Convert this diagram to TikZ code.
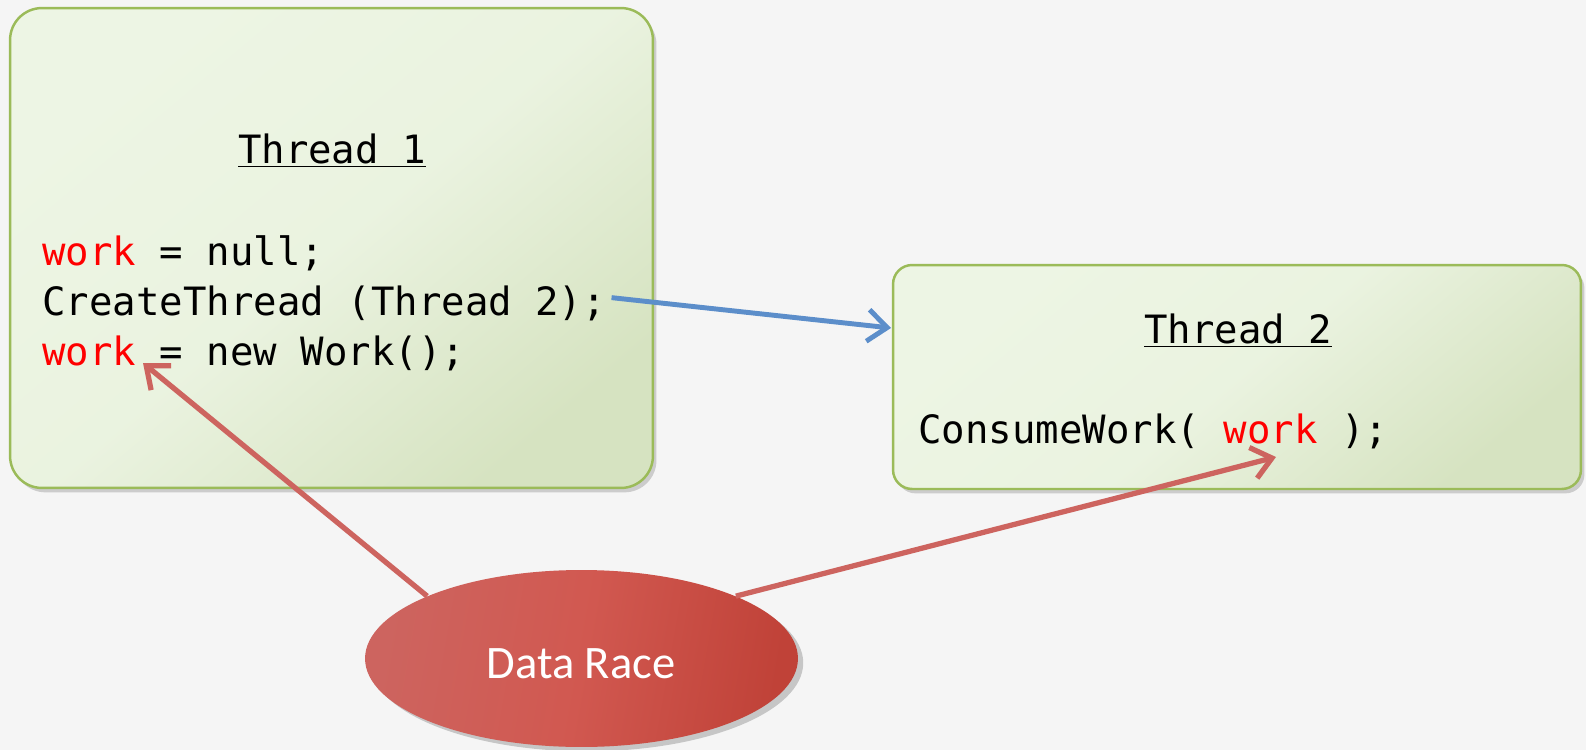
\documentclass[tikz,border=0pt]{standalone}
\usepackage{fontspec}
\setmonofont{DejaVu Sans Mono}
\newfontfamily\racefont{Carlito}
\usetikzlibrary{shapes.geometric,shadows,arrows.meta,calc}
\definecolor{boxlight}{RGB}{237,245,228}
\definecolor{boxdark}{RGB}{214,227,193}
\definecolor{boxline}{RGB}{155,187,89}
\definecolor{linkblue}{RGB}{92,142,202}
\definecolor{racered}{RGB}{205,100,95}
\definecolor{racehot}{RGB}{214,74,62}
\definecolor{raceedge}{RGB}{192,66,56}
\definecolor{wordred}{RGB}{255,0,0}
\newcommand\codesize{\fontsize{22.2}{26}\selectfont\ttfamily}

\begin{document}
\begin{tikzpicture}[x=0.02cm,y=-0.02cm,
    threadbox/.style={draw=boxline,line width=1.4pt,
      top color=boxlight,bottom color=boxdark,middle color=boxlight!88!boxdark,shading angle=40,
      drop shadow={shadow xshift=2pt,shadow yshift=-2.5pt,opacity=0.35}},
    code/.style={inner sep=0pt,font=\codesize},
    race/.style={ellipse,inner sep=0pt,
      left color=racered,right color=raceedge,middle color=racered!55!racehot,shading angle=80,
      drop shadow={shadow xshift=3pt,shadow yshift=-2.5pt,opacity=0.4}},
    racearrow/.style={draw=racered,line width=3pt,-{Straight Barb[length=11pt,width=18pt]}}]
    \fill[gray!8] (0,0) rectangle (1586,750); % background
    \useasboundingbox (0,0) rectangle (1586,750);

	\node[threadbox,rounded corners=0.64cm,minimum width=12.86cm,minimum height=9.6cm] (t1) at (331.5,248) {};
	\node[threadbox,rounded corners=0.38cm,minimum width=13.76cm,minimum height=4.48cm] (t2) at (1237,377) {};

	\node[code,anchor=base] (t1title) at (332,163) {\underline{Thread 1}};
	\node[code,anchor=base west] (l1) at (42,265) {\textcolor{wordred}{work} = null;};
	\node[code,anchor=base west] (l2) at (42,315) {CreateThread (Thread 2);};
	\node[code,anchor=base west] (l3) at (42,365) {\textcolor{wordred}{work} = new Work();};

	\node[code,anchor=base] (t2title) at (1238,343) {\underline{Thread 2}};
	\node[code,anchor=base west] (l4) at (918,443) {ConsumeWork( \textcolor{wordred}{work} );};

	\node[race,minimum width=8.66cm,minimum height=3.54cm] (dr) at (581.5,658.5) {};
	\node[anchor=base,text=white,font=\racefont\fontsize{26.5}{30}\selectfont] (drtext) at (581,678) {Data Race};

	\coordinate (w3) at (143,363);
	\coordinate (w4) at (1276,457);
	\coordinate (t2in) at (891,328);

	\draw[linkblue,line width=2.8pt,-{Straight Barb[length=11pt,width=18pt]}] ([xshift=3pt,yshift=3pt]l2.east) -- (t2in);
	\draw[racearrow] (dr.158) -- (w3);
	\draw[racearrow] (dr.22) -- (w4);
\end{tikzpicture}
\end{document}
